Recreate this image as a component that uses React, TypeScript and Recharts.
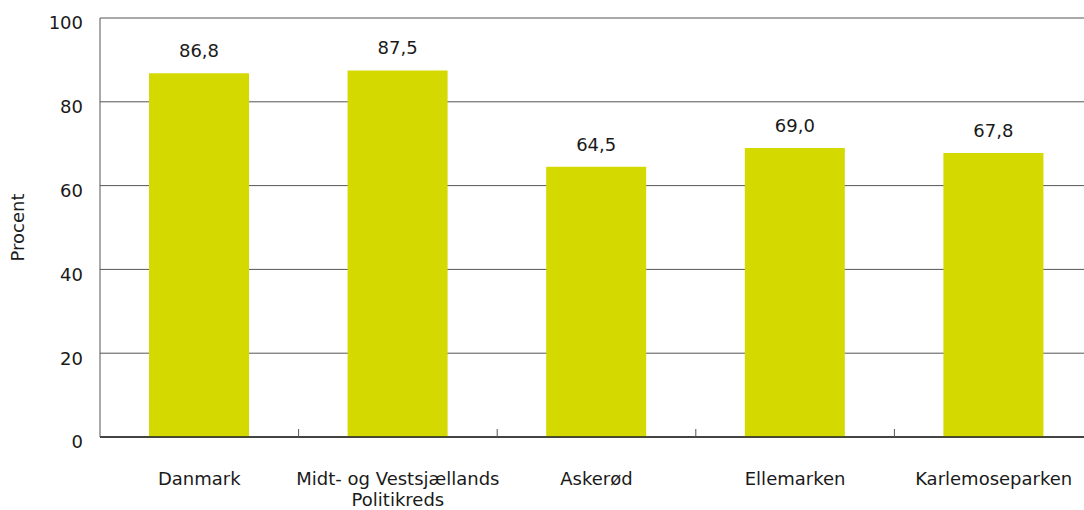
import { BarChart, Bar, XAxis, YAxis, CartesianGrid, LabelList } from "recharts"

const categories = ["Danmark", "Midt- og Vestsjællands Politikreds", "Askerød", "Ellemarken", "Karlemoseparken"]
const values = [86.8, 87.5, 64.5, 69.0, 67.8]
const yTicks = [0, 20, 40, 60, 80, 100]

const data = categories.map((name, i) => ({ name, value: values[i] }))

const font = "'DejaVu Sans', sans-serif"

// category label plus a small upward tick at the right edge of each band
function CategoryTick(props: any) {
  const { x, y, payload, index } = props
  const text: string = payload.value
  const lines = text === "Midt- og Vestsjællands Politikreds" ? ["Midt- og Vestsjællands", "Politikreds"] : [text]
  const half = payload.offset || 0
  return (
    <g>
      {index < categories.length - 1 && (
        <line x1={x + half} x2={x + half} y1={y} y2={y - 8} stroke="#555" strokeWidth={1} />
      )}
      <text x={x} y={y} textAnchor="middle" fontSize={18} fontFamily={font} fill="#1a1a1a">
        {lines.map((l, i) => (
          <tspan key={i} x={x} dy={i === 0 ? 48 : 21}>
            {l}
          </tspan>
        ))}
      </text>
    </g>
  )
}

function ValueTick(props: any) {
  const { x, y, payload } = props
  return (
    <text x={x} y={y + 5} dy="0.355em" textAnchor="end" fontSize={18} fontFamily={font} fill="#1a1a1a">
      {payload.value}
    </text>
  )
}

export default function App() {
  return (
    <div style={{ position: "absolute", left: 0, top: 0, width: 1084, height: 510, overflow: "hidden", background: "#fff" }}>
      <BarChart
        width={1100}
        height={510}
        data={data}
        margin={{ top: 18, right: 7, left: 0, bottom: 13 }}
        barCategoryGap={0}
      >
        <CartesianGrid vertical={false} stroke="#555" strokeWidth={1} />
        <XAxis
          dataKey="name"
          height={60}
          axisLine={{ stroke: "#222", strokeWidth: 1.5 }}
          tickLine={false}
          tickSize={0}
          tickMargin={0}
          tick={<CategoryTick />}
          interval={0}
        />
        <YAxis
          domain={[0, 100]}
          ticks={yTicks}
          width={100}
          tickLine={false}
          tickSize={0}
          tickMargin={17}
          axisLine={{ stroke: "#555" }}
          tick={<ValueTick />}
          label={{
            value: "Procent",
            angle: -90,
            position: "insideLeft",
            offset: 18,
            style: { fontSize: 18, fontFamily: font, fill: "#1a1a1a", textAnchor: "middle" },
          }}
        />
        <Bar dataKey="value" fill="#d4d900" barSize={100} isAnimationActive={false}>
          <LabelList
            dataKey="value"
            position="top"
            offset={16}
            formatter={(v: any) => Number(v).toFixed(1).replace(".", ",")}
            style={{ fontSize: 18, fontFamily: font, fill: "#1a1a1a" }}
          />
        </Bar>
      </BarChart>
    </div>
  )
}
